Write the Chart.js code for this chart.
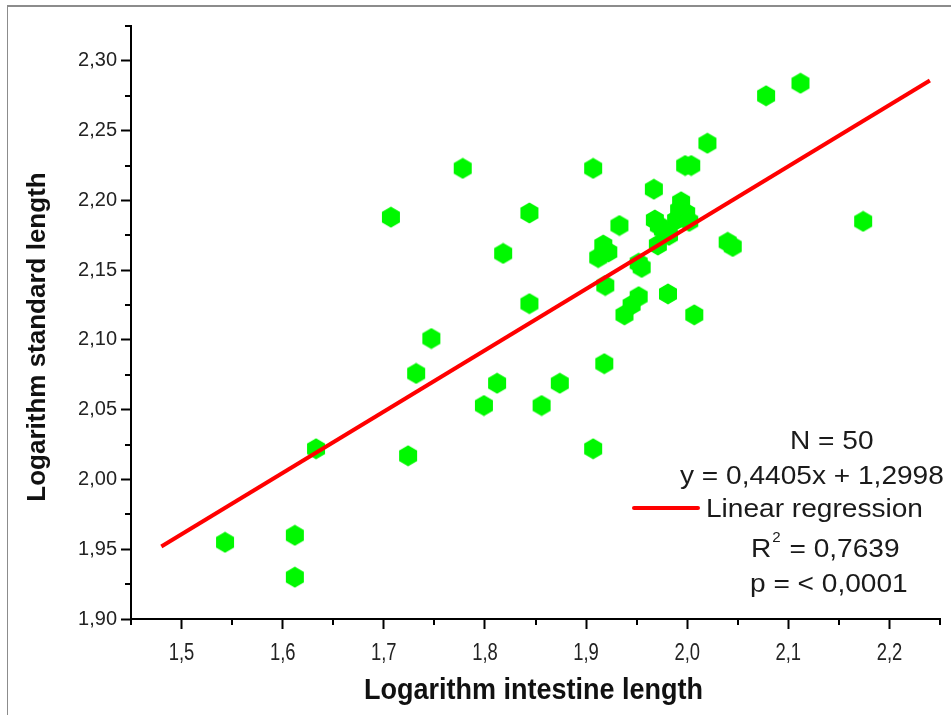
<!DOCTYPE html>
<html>
<head>
<meta charset="utf-8">
<script src="https://cdn.jsdelivr.net/npm/chart.js@4.4.1/dist/chart.umd.min.js"></script>
<style>
  html, body { margin: 0; padding: 0; background: #fff; }
  #wrap { position: absolute; left: 0; top: 0; width: 951px; height: 715px; overflow: hidden; }
  #frame { position: absolute; left: 7px; top: 5px; right: -5px; bottom: -5px; border-top: 2px solid #8c8c8c; border-left: 1px solid #8c8c8c; pointer-events: none; }
</style>
</head>
<body>
<div id="wrap">
  <canvas id="chart" width="951" height="715"></canvas>
  <div id="frame"></div>
</div>
<script>
// --- values ---
const intestineLog = [1.543, 1.612, 1.612, 1.633, 1.707, 1.724, 1.732, 1.747, 1.778, 1.799,
                      1.812, 1.818, 1.844, 1.844, 1.856, 1.874, 1.907, 1.907, 1.912, 1.917,
                      1.918, 1.919, 1.933, 1.938, 1.952, 1.952, 1.967, 1.968, 1.971, 1.976,
                      1.981, 1.989, 1.994, 1.999, 1.998, 2.004, 2.007, 2.020, 2.040, 2.045,
                      2.078, 2.112, 2.174, 1.982, 1.992, 1.945, 1.922, 1.972, 2.002, 1.955];
const standardLog  = [1.955, 1.960, 1.930, 2.022, 2.188, 2.017, 2.076, 2.101, 2.223, 2.053,
                      2.069, 2.162, 2.191, 2.126, 2.053, 2.069, 2.223, 2.022, 2.159, 2.168,
                      2.083, 2.139, 2.182, 2.118, 2.131, 2.155, 2.208, 2.186, 2.168, 2.179,
                      2.133, 2.186, 2.199, 2.191, 2.225, 2.225, 2.118, 2.241, 2.170, 2.167,
                      2.275, 2.284, 2.185, 2.175, 2.193, 2.125, 2.163, 2.182, 2.185, 2.152];

// regression line ends (as drawn in the picture)
const fitX = [1.48, 2.24];
const fitY = [1.952, 2.286];

// axis ticks
const xTicks = [1.5, 1.6, 1.7, 1.8, 1.9, 2.0, 2.1, 2.2];
const xTickLabels = ['1,5', '1,6', '1,7', '1,8', '1,9', '2,0', '2,1', '2,2'];
const xMinor = [1.45, 1.55, 1.65, 1.75, 1.85, 1.95, 2.05, 2.15, 2.25];
const yTicks = [1.90, 1.95, 2.00, 2.05, 2.10, 2.15, 2.20, 2.25, 2.30];
const yTickLabels = ['1,90', '1,95', '2,00', '2,05', '2,10', '2,15', '2,20', '2,25', '2,30'];
const yMinor = [1.925, 1.975, 2.025, 2.075, 2.125, 2.175, 2.225, 2.275, 2.325];

const xTitle = 'Logarithm intestine length';
const yTitle = 'Logarithm standard length';

// stats text
const statN = 'N = 50';
const statEq = 'y = 0,4405x + 1,2998';
const statLegend = 'Linear regression';
const statR = 'R';
const statRsup = '2';
const statRval = ' = 0,7639';
const statP = 'p = < 0,0001';

const SANS = '"Liberation Sans", Arial, sans-serif';

// --- hexagon marker ---
const hex = document.createElement('canvas');
hex.width = 22; hex.height = 22;
(function () {
  const c = hex.getContext('2d');
  c.fillStyle = '#00f800';
  c.beginPath();
  for (let i = 0; i < 6; i++) {
    const a = -Math.PI / 2 + i * Math.PI / 3;
    const px = 11 + 10.4 * Math.cos(a), py = 11 + 10.4 * Math.sin(a);
    if (i === 0) c.moveTo(px, py); else c.lineTo(px, py);
  }
  c.closePath();
  c.fill();
})();

const points = intestineLog.map((x, i) => ({ x: x, y: standardLog[i] }));
const fitLine = fitX.map((x, i) => ({ x: x, y: fitY[i] }));

// draw text squeezed/stretched horizontally
function textScaled(ctx, str, x, y, sx, align) {
  ctx.save();
  ctx.translate(x, y);
  ctx.scale(sx, 1);
  ctx.textAlign = align;
  ctx.fillText(str, 0, 0);
  ctx.restore();
}

// short minor ticks + condensed x labels + axis titles
const axisExtras = {
  id: 'axisExtras',
  afterDraw(chart) {
    const ctx = chart.ctx;
    const xs = chart.scales.x, ys = chart.scales.y;
    ctx.save();
    ctx.strokeStyle = '#000';
    ctx.lineWidth = 2;
    ctx.beginPath();
    xMinor.forEach(v => {
      const px = Math.round(xs.getPixelForValue(v));
      ctx.moveTo(px, xs.top); ctx.lineTo(px, xs.top + 6);
    });
    yMinor.forEach(v => {
      const py = Math.round(ys.getPixelForValue(v));
      ctx.moveTo(ys.right, py); ctx.lineTo(ys.right - 6, py);
    });
    ctx.stroke();

    ctx.fillStyle = '#222';
    ctx.textBaseline = 'alphabetic';
    ctx.font = '23px ' + SANS;
    xTicks.forEach((v, i) => {
      textScaled(ctx, xTickLabels[i], xs.getPixelForValue(v), 660, 0.8, 'center');
    });

    ctx.fillStyle = '#111';
    ctx.font = 'bold 30px ' + SANS;
    textScaled(ctx, xTitle, (xs.left + xs.right) / 2 - 2, 699, 0.9, 'center');

    ctx.font = 'bold 26px ' + SANS;
    ctx.translate(38, 337);
    ctx.rotate(-Math.PI / 2);
    ctx.textAlign = 'center';
    ctx.textBaseline = 'middle';
    ctx.fillText(yTitle, 0, 0);
    ctx.restore();
  }
};

// stats block with legend sample
const statsBox = {
  id: 'statsBox',
  afterDraw(chart) {
    const ctx = chart.ctx;
    const sx = 1.08;
    ctx.save();
    ctx.fillStyle = '#1a1a1a';
    ctx.textBaseline = 'alphabetic';
    ctx.font = '26px ' + SANS;
    textScaled(ctx, statN, 790, 449, sx, 'left');
    textScaled(ctx, statEq, 680, 484, sx, 'left');
    ctx.strokeStyle = '#ff0000';
    ctx.lineWidth = 4;
    ctx.lineCap = 'round';
    ctx.beginPath();
    ctx.moveTo(634, 508); ctx.lineTo(698, 508);
    ctx.stroke();
    textScaled(ctx, statLegend, 706, 517, sx, 'left');
    textScaled(ctx, statR, 751, 557, sx, 'left');
    const rw = ctx.measureText(statR).width * sx;
    ctx.font = '14px ' + SANS;
    textScaled(ctx, statRsup, 751 + rw + 1, 542, sx, 'left');
    const sw = ctx.measureText(statRsup).width * sx;
    ctx.font = '26px ' + SANS;
    textScaled(ctx, statRval, 751 + rw + sw + 2, 557, sx, 'left');
    textScaled(ctx, statP, 750, 592, sx, 'left');
    ctx.restore();
  }
};

new Chart(document.getElementById('chart'), {
  type: 'scatter',
  data: {
    datasets: [
      {
        type: 'line',
        label: statLegend,
        data: fitLine,
        borderColor: '#ff0000',
        borderWidth: 4,
        pointRadius: 0,
        fill: false,
        order: 0
      },
      {
        label: 'data',
        data: points,
        pointStyle: hex,
        pointRadius: 10,
        order: 1
      }
    ]
  },
  options: {
    responsive: false,
    animation: false,
    layout: { padding: { top: 26, right: 3, left: 0, bottom: 0 } },
    plugins: { legend: { display: false }, tooltip: { enabled: false } },
    scales: {
      x: {
        type: 'linear',
        min: 1.45,
        max: 2.25,
        afterFit: s => { s.height = 96; },
        afterBuildTicks: s => { s.ticks = xTicks.map(v => ({ value: v })); },
        border: { display: true, color: '#000', width: 2 },
        grid: { display: true, drawOnChartArea: false, drawTicks: true, tickLength: 10, tickWidth: 2, tickColor: '#000' },
        ticks: { display: false },
        title: { display: false }
      },
      y: {
        type: 'linear',
        min: 1.90,
        max: 2.325,
        afterFit: s => { s.width = 131; },
        afterBuildTicks: s => { s.ticks = yTicks.map(v => ({ value: v })); },
        border: { display: true, color: '#000', width: 2 },
        grid: { display: true, drawOnChartArea: false, drawTicks: true, tickLength: 10, tickWidth: 2, tickColor: '#000' },
        ticks: {
          autoSkip: false,
          padding: 4,
          color: '#222',
          font: { family: SANS, size: 20 },
          callback: (v, i) => yTickLabels[i]
        },
        title: { display: false }
      }
    }
  },
  plugins: [axisExtras, statsBox]
});
</script>
</body>
</html>
